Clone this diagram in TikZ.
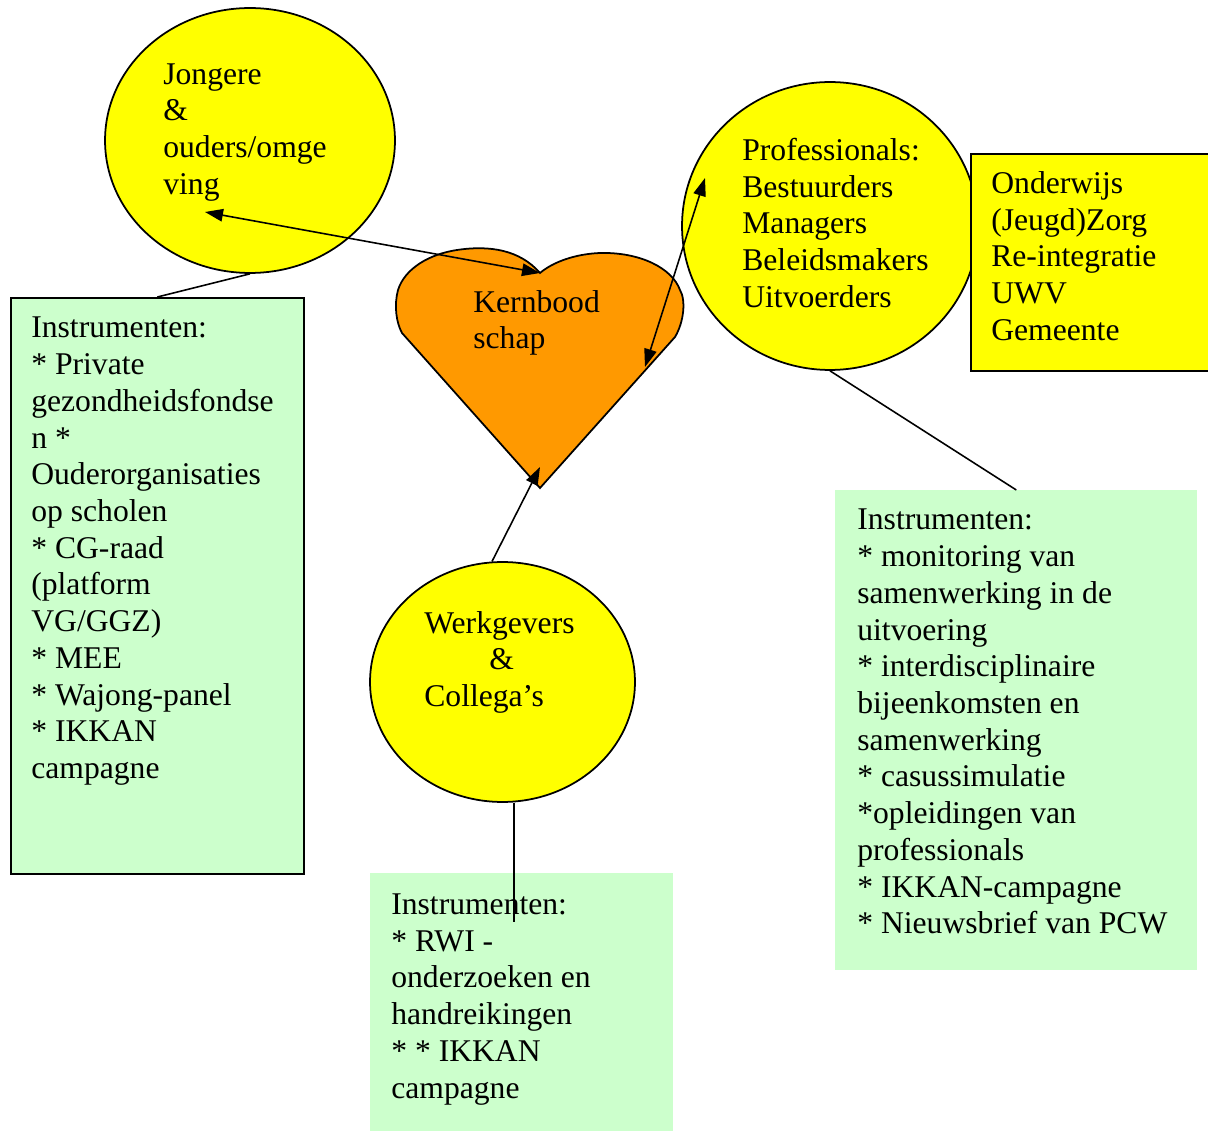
\documentclass[tikz,border=0pt]{standalone}
\usepackage{fontspec}
\setmainfont{Liberation Serif}
\usetikzlibrary{
  shapes.geometric,
  arrows.meta
}
\definecolor{circlecolor}{RGB}{255, 255, 0}
\definecolor{heartcolor}{RGB}{255, 153, 0}
\definecolor{instrcolor}{RGB}{204, 255, 204}
\tikzset{
blocktext/.style={
  anchor=base west,
  align=left,
  inner sep=0pt,
  font=\fontsize{18}{20.9}\selectfont
},
groupcircle/.style={
  draw,
  ellipse,
  fill=circlecolor,
  line width=1pt,
  inner sep=0pt
},
instrblock/.style={
  anchor=north west,
  fill=instrcolor,
  inner sep=0pt
},
sectorblock/.style={
  anchor=north west,
  draw,
  fill=circlecolor,
  line width=1pt,
  inner sep=0pt
},
connector/.style={
  line width=0.9pt
},
arrow/.style={
  -{Triangle[length=3.6mm,width=2.5mm]},
  line width=0.9pt
},
doublearrow/.style={
  {Triangle[length=3.6mm,width=2.5mm]}-{Triangle[length=3.6mm,width=2.5mm]},
  line width=0.9pt
}
}

\begin{document}
\begin{tikzpicture}[x=0.02cm, y=-0.02cm]
  \useasboundingbox (0,0) rectangle (1208,1131);
  \clip (0,0) rectangle (1208,1131);

  % doelgroepen
  \node[groupcircle, minimum width=5.8cm, minimum height=5.3cm] (jong) at (250,140.5) {};
  \node[groupcircle, minimum width=5.92cm, minimum height=5.76cm] (prof) at (830,226) {};
  \node[groupcircle, minimum width=5.3cm, minimum height=4.8cm] (werk) at (502.5,682) {};

  % kernboodschap
  \draw[fill=heartcolor, line width=1pt]
    (540,273) .. controls (520,250) and (490,245) .. (457,250)
    .. controls (430,254) and (405,268) .. (398,290)
    .. controls (394,305) and (396,322) .. (402,333)
    -- (540,488) -- (675,337)
    .. controls (684,322) and (686,300) .. (680,290)
    .. controls (672,268) and (640,252) .. (600,253)
    .. controls (575,254) and (553,262) .. (540,273) -- cycle;
  \coordinate (notch) at (540,273);
  \coordinate (tip) at (540,467);
  \coordinate (hartrechts) at (645,367);

  % sectoren en instrumenten
  \node[sectorblock, minimum width=4.9cm, minimum height=4.34cm] (sector) at (970,153) {};
  \node[instrblock, draw, line width=1pt, minimum width=5.86cm, minimum height=11.52cm] (instrjong) at (10,297) {};
  \node[instrblock, minimum width=7.24cm, minimum height=9.6cm] (instrprof) at (835,490) {};
  \node[instrblock, minimum width=6.06cm, minimum height=5.2cm] (instrwerk) at (370,873) {};

  % teksten (geplaatst op de basislijn van de laatste regel)
  \node[blocktext] (jongtxt) at (163,194.4) {Jongere\\\&\\ouders/omge\\ving};
  \node[blocktext] (hearttxt) at (473,348.8) {Kernbood\\schap};
  \node[blocktext] (proftxt) at (742,307.2) {Professionals:\\Bestuurders\\Managers\\Beleidsmakers\\Uitvoerders};
  \node[blocktext] (sectortxt) at (991,340.2) {Onderwijs\\(Jeugd)Zorg\\Re-integratie\\UWV\\Gemeente};
  \node[blocktext] (werktxt) at (424,706.6) {Werkgevers\\\hspace*{1.3cm}\&\\Collega’s};
  \node[blocktext] (instrjongtxt) at (31,778.6) {Instrumenten:\\* Private\\gezondheidsfondse\\n *\\Ouderorganisaties\\op scholen\\* CG-raad\\(platform\\VG/GGZ)\\* MEE\\* Wajong-panel\\* IKKAN\\campagne};
  \node[blocktext] (instrproftxt) at (857,933.8) {Instrumenten:\\* monitoring van\\samenwerking in de\\uitvoering\\* interdisciplinaire\\bijeenkomsten en\\samenwerking\\* casussimulatie\\*opleidingen van\\professionals\\* IKKAN-campagne\\* Nieuwsbrief van PCW};
  \node[blocktext] (instrwerktxt) at (391,1098) {Instrumenten:\\* RWI -\\onderzoeken en\\handreikingen\\* * IKKAN\\campagne};

  % verbindingen
  \coordinate (jongpunt) at (205,212);
  \coordinate (profpunt) at (705,178);
  \coordinate (werkvoet) at (514,922);
  \draw[connector] (jong.south) -- (instrjong.north);
  \draw[connector] (prof.south) -- (instrprof.north);
  \draw[connector] (werk.south -| werkvoet) -- (werkvoet);
  \draw[doublearrow] (jongpunt) -- (notch);
  \draw[doublearrow] (hartrechts) -- (profpunt);
  \draw[arrow] (werk.95) -- (tip);
\end{tikzpicture}
\end{document}
